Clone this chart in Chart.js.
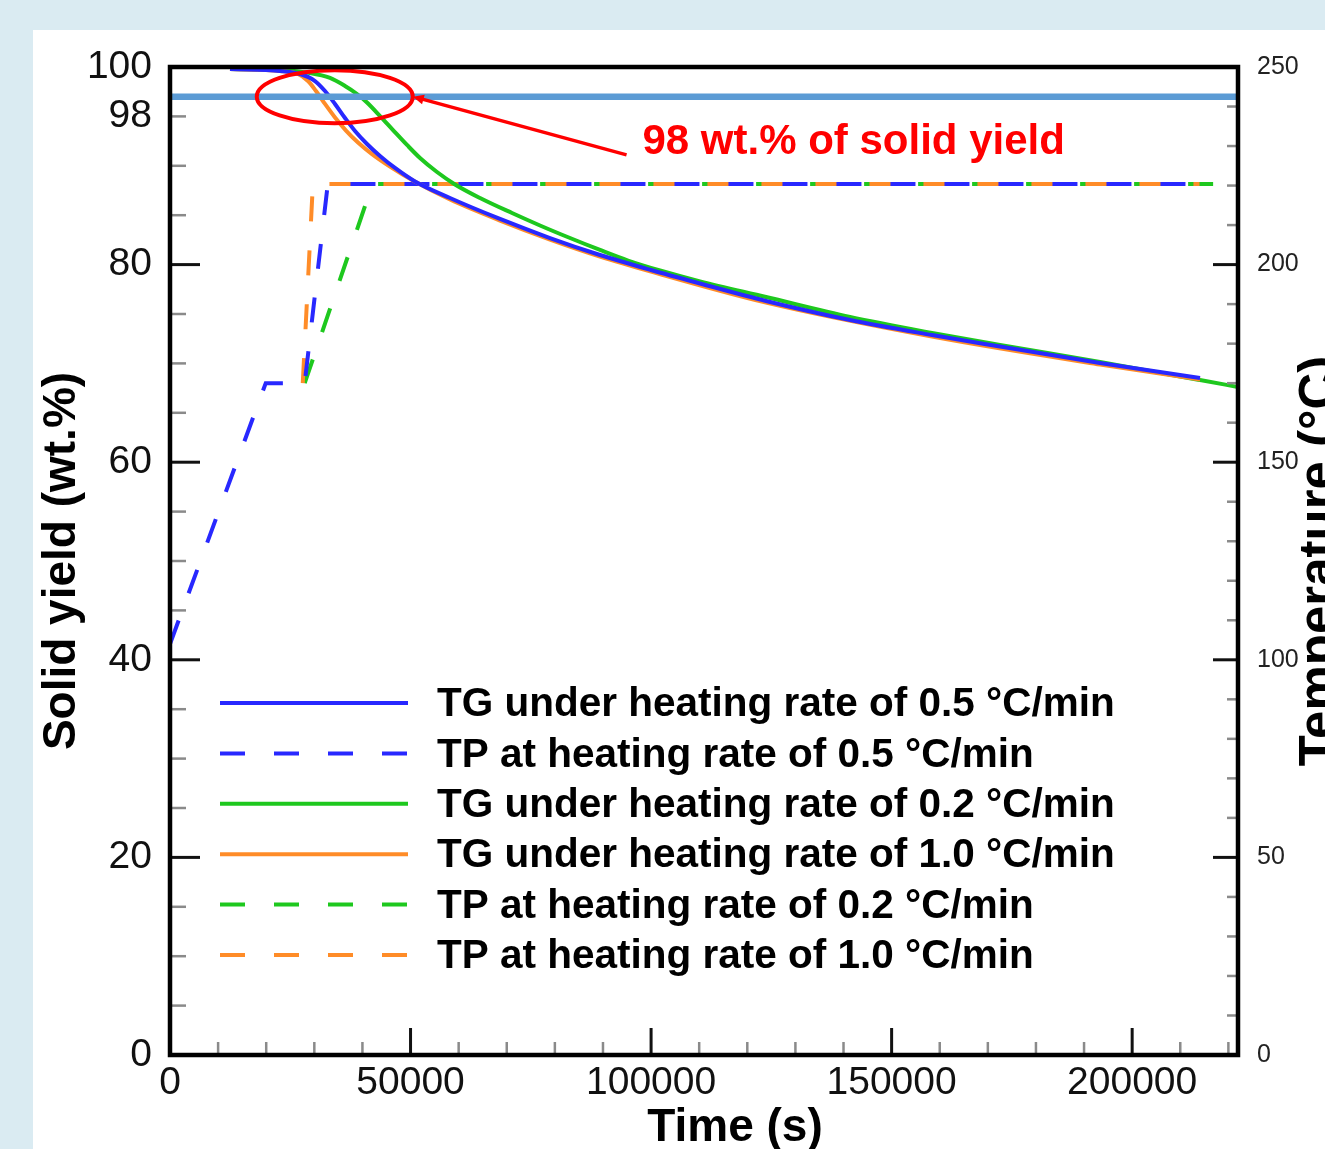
<!DOCTYPE html>
<html>
<head>
<meta charset="utf-8">
<title>Solid yield and temperature vs. time</title>
<script src="https://cdn.jsdelivr.net/npm/chart.js@4.4.1/dist/chart.umd.min.js"></script>
<style>
    html, body { margin: 0; padding: 0; overflow: hidden; background: #daebf2; }
    #panel { position: absolute; left: 33px; top: 30px; width: 1292px; height: 1119px; background: #fff; }
    canvas { display: block; }
</style>
</head>
<body>
<div id="panel"><canvas id="yieldChart" width="1292" height="1119"></canvas></div>
<script>
// -----------------------------------------
// Daten
// -----------------------------------------

// TG-Kurven: Zeit (s) / Feststoffausbeute (wt.%)
const tgTime05  = [12472, 22866, 27023, 30141, 32220, 34299, 36377, 38456, 40950, 43653, 46771, 50928, 58204, 68597, 78991, 89384, 99985, 110171, 123891, 141352, 158397, 172532, 193319, 214106];
const tgYield05 = [99.80, 99.60, 99.29, 98.58, 97.57, 96.26, 94.84, 93.52, 92.21, 90.99, 89.78, 88.41, 86.74, 84.62, 82.69, 80.97, 79.45, 78.09, 76.32, 74.39, 72.87, 71.71, 70.04, 68.52];

const tgTime02  = [12472, 22866, 29102, 33259, 36377, 38872, 40950, 43653, 46355, 49265, 51968, 55501, 59243, 64440, 71092, 76912, 83148, 89384, 95204, 101856, 110171, 123891, 141352, 158397, 172532, 193319, 214106, 222000];
const tgYield02 = [99.80, 99.70, 99.39, 98.89, 98.08, 97.27, 96.41, 95.04, 93.62, 92.11, 90.79, 89.37, 88.11, 86.74, 85.22, 83.96, 82.69, 81.48, 80.41, 79.40, 78.30, 76.72, 74.70, 73.08, 71.86, 70.14, 68.32, 67.61];

const tgTime10  = [12472, 22866, 26607, 28686, 30349, 32220, 34299, 36585, 39080, 41990, 45731, 50512, 58204, 68597, 78991, 89384, 99985, 123891, 158397, 193319, 214106];
const tgYield10 = [99.80, 99.60, 99.29, 98.58, 97.57, 96.26, 94.89, 93.57, 92.36, 91.19, 89.93, 88.51, 86.59, 84.46, 82.54, 80.82, 79.30, 76.16, 72.72, 69.89, 68.37];

// TP-Kurven: Zeit (s) / Temperatur (°C)
const tpTime05 = [0, 19900, 28000, 32800, 214000];
const tpTemp05 = [104, 170, 170, 220.4, 220.4];

const tpTime02 = [28000, 42100, 222000];
const tpTemp02 = [170, 220.4, 220.4];

const tpTime10 = [27600, 29700, 214000];
const tpTemp10 = [170, 220.4, 220.4];

// Referenzlinie "98 wt.%" (so wie sie in der Abbildung liegt)
const refTime  = [0, 222000];
const refYield = [97, 97];

// Achsen und Tick-Beschriftungen
const timeMax = 222000;
const yieldMax = 100;
const tempMax = 250;
const timeLabels  = [0, 50000, 100000, 150000, 200000];
const yieldLabels = [0, 20, 40, 60, 80, 100];
const tempLabels  = [0, 50, 100, 150, 200, 250];
const timeMinorStep = 10000;
const yieldMinorStep = 5;
const tempMinorStep = 10;

// Beschriftungen
const labels = {
    tg05: "TG under heating rate of 0.5 \u00B0C/min",
    tp05: "TP at heating rate of 0.5 \u00B0C/min",
    tg02: "TG under heating rate of 0.2 \u00B0C/min",
    tg10: "TG under heating rate of 1.0 \u00B0C/min",
    tp02: "TP at heating rate of 0.2 \u00B0C/min",
    tp10: "TP at heating rate of 1.0 \u00B0C/min"
};
const legendOrder = ["tg05", "tp05", "tg02", "tg10", "tp02", "tp10"];
const annotationText = "98 wt.% of solid yield";


// -----------------------------------------
// Farben / Schrift
// -----------------------------------------
const BLUE = "#2828ff";
const GREEN = "#1ec81e";
const ORANGE = "#ff8c28";
const RED = "#ff0000";
const FONT = "'Liberation Sans', Arial, sans-serif";
const DASH = [25, 29];

const pts = (xs, ys) => xs.map((x, i) => ({ x: x, y: ys[i] }));

function tickList(max, step) {
    const list = [];
    for (let v = 0; v <= max + 1e-9; v += step) list.push({ value: v });
    return list;
}

// feste Achsenbreiten, ohne Zusatzabstand fuer ueberstehende Labels
function fixSize(prop, size) {
    return s => {
        s[prop] = size;
        s.paddingTop = 0;
        s.paddingBottom = 0;
        s.paddingLeft = 0;
        s.paddingRight = 0;
    };
}


// -----------------------------------------
// Plugin: Rahmen, Ticks nach innen, Achsentitel
// -----------------------------------------
const frameTicks = {
    id: "frameTicks",
    afterDraw(chart) {
        const { ctx, chartArea: a, scales } = chart;
        ctx.save();

        const line = (x1, y1, x2, y2, color, w) => {
            ctx.strokeStyle = color;
            ctx.lineWidth = w;
            ctx.beginPath();
            ctx.moveTo(x1, y1);
            ctx.lineTo(x2, y2);
            ctx.stroke();
        };

        // linke Achse
        scales.y.ticks.forEach(t => {
            const py = scales.y.getPixelForValue(t.value);
            if (yieldLabels.includes(t.value)) line(a.left, py, a.left + 30, py, "#111", 3);
            else line(a.left, py, a.left + 16, py, "#8a8a8a", 2.5);
        });

        // rechte Achse
        scales.y1.ticks.forEach(t => {
            const py = scales.y1.getPixelForValue(t.value);
            if (tempLabels.includes(t.value)) line(a.right, py, a.right - 25, py, "#111", 3);
            else line(a.right, py, a.right - 11, py, "#8a8a8a", 2.5);
        });

        // x-Achse
        scales.x.ticks.forEach(t => {
            const px = scales.x.getPixelForValue(t.value);
            if (timeLabels.includes(t.value)) line(px, a.bottom, px, a.bottom - 27, "#111", 3);
            else line(px, a.bottom, px, a.bottom - 13, "#8a8a8a", 2.5);
        });

        // Rahmen
        ctx.strokeStyle = "#000";
        ctx.lineWidth = 4.5;
        ctx.strokeRect(a.left, a.top, a.right - a.left, a.bottom - a.top);

        // Achsentitel
        const midY = (a.top + a.bottom) / 2;
        ctx.fillStyle = "#000";
        ctx.textAlign = "center";
        ctx.textBaseline = "alphabetic";

        ctx.font = "bold 46px " + FONT;
        ctx.save();
        ctx.translate(42, midY);
        ctx.rotate(-Math.PI / 2);
        ctx.fillText("Solid yield (wt.%)", 0, 0);
        ctx.restore();

        ctx.fillText("Time (s)", a.left + 565, a.bottom + 86);

        ctx.font = "bold 51px " + FONT;
        ctx.save();
        ctx.translate(a.right + 97, midY);
        ctx.rotate(-Math.PI / 2);
        ctx.fillText("Temperature (\u00B0C)", 0, 0);
        ctx.restore();

        ctx.restore();
    }
};


// -----------------------------------------
// Plugin: Markierung (Ellipse, Pfeil, roter Text)
// -----------------------------------------
const annotation = {
    id: "annotation",
    afterDatasetsDraw(chart) {
        const { ctx, scales } = chart;
        const cx = scales.x.getPixelForValue(34250);
        const cy = scales.y.getPixelForValue(refYield[0]);
        const rx = 78, ry = 26.5;

        ctx.save();
        ctx.strokeStyle = RED;
        ctx.fillStyle = RED;
        ctx.lineWidth = 4;

        ctx.beginPath();
        ctx.ellipse(cx, cy, rx, ry, 0, 0, Math.PI * 2);
        ctx.stroke();

        // Pfeil zur Ellipse
        const ex = cx + rx, ey = cy;
        const lx = scales.x.getPixelForValue(94900);
        const ly = scales.y.getPixelForValue(91.1);
        ctx.lineWidth = 3.5;
        ctx.beginPath();
        ctx.moveTo(lx, ly);
        ctx.lineTo(ex + 4, ey + 1);
        ctx.stroke();

        const ang = Math.atan2(ey - ly, ex - lx);
        ctx.beginPath();
        ctx.moveTo(ex, ey);
        ctx.lineTo(ex - 11 * Math.cos(ang) + 5 * Math.sin(ang), ey - 11 * Math.sin(ang) - 5 * Math.cos(ang));
        ctx.lineTo(ex - 11 * Math.cos(ang) - 5 * Math.sin(ang), ey - 11 * Math.sin(ang) + 5 * Math.cos(ang));
        ctx.closePath();
        ctx.fill();

        // Text
        ctx.font = "bold 42px " + FONT;
        ctx.textAlign = "left";
        ctx.textBaseline = "middle";
        ctx.fillText(annotationText, scales.x.getPixelForValue(98200), scales.y.getPixelForValue(92.4));

        ctx.restore();
    }
};


// -----------------------------------------
// Plugin: Legende im Diagramm
// -----------------------------------------
const inLegend = {
    id: "inLegend",
    afterDraw(chart) {
        const { ctx, chartArea: a } = chart;
        ctx.save();
        ctx.font = "bold 40.5px " + FONT;
        ctx.textAlign = "left";
        ctx.textBaseline = "middle";

        legendOrder.forEach((key, i) => {
            const ds = chart.data.datasets.find(d => d.key === key);
            const y = a.top + 636 + i * 50.4;
            ctx.strokeStyle = ds.borderColor;
            ctx.lineWidth = 4;
            ctx.setLineDash(ds.borderDash || []);
            ctx.beginPath();
            ctx.moveTo(a.left + 50, y);
            ctx.lineTo(a.left + 238, y);
            ctx.stroke();
            ctx.setLineDash([]);
            ctx.fillStyle = "#000";
            ctx.fillText(ds.label, a.left + 267, y + 2);
        });
        ctx.restore();
    }
};


// -----------------------------------------
// Diagramm
// -----------------------------------------
const canvas = document.getElementById("yieldChart");

new Chart(canvas.getContext("2d"), {
    type: "line",
    data: {
        datasets: [
            { key: "ref", label: "98 wt.%", data: pts(refTime, refYield), borderColor: "#5b9bd5", borderWidth: 6.5, yAxisID: "y", order: -1 },
            { key: "tg05", label: labels.tg05, data: pts(tgTime05, tgYield05), borderColor: BLUE, borderWidth: 4, yAxisID: "y", order: 0, cubicInterpolationMode: "monotone" },
            { key: "tg10", label: labels.tg10, data: pts(tgTime10, tgYield10), borderColor: ORANGE, borderWidth: 4, yAxisID: "y", order: 1, cubicInterpolationMode: "monotone" },
            { key: "tg02", label: labels.tg02, data: pts(tgTime02, tgYield02), borderColor: GREEN, borderWidth: 4, yAxisID: "y", order: 2, cubicInterpolationMode: "monotone" },
            { key: "tp05", label: labels.tp05, data: pts(tpTime05, tpTemp05), borderColor: BLUE, borderWidth: 4, borderDash: DASH, yAxisID: "y1", order: 3 },
            { key: "tp10", label: labels.tp10, data: pts(tpTime10, tpTemp10), borderColor: ORANGE, borderWidth: 4, borderDash: DASH, yAxisID: "y1", order: 4 },
            { key: "tp02", label: labels.tp02, data: pts(tpTime02, tpTemp02), borderColor: GREEN, borderWidth: 4, borderDash: DASH, yAxisID: "y1", order: 5 }
        ]
    },
    options: {
        responsive: false,
        animation: false,
        devicePixelRatio: 1,
        layout: { padding: { top: 37, left: 0, right: 0, bottom: 0 } },
        elements: { point: { radius: 0 }, line: { tension: 0 } },
        plugins: { legend: { display: false }, tooltip: { enabled: false } },
        scales: {
            x: {
                type: "linear",
                min: 0,
                max: timeMax,
                grid: { display: false, drawTicks: false },
                border: { display: false },
                afterFit: fixSize("height", 94),
                afterBuildTicks: s => { s.ticks = tickList(timeMax, timeMinorStep); },
                ticks: {
                    autoSkip: false,
                    maxRotation: 0,
                    padding: 5,
                    color: "#111",
                    font: { family: FONT, size: 39 },
                    callback: v => (timeLabels.includes(v) ? String(v) : "")
                }
            },
            y: {
                position: "left",
                min: 0,
                max: yieldMax,
                grid: { display: false, drawTicks: false },
                border: { display: false },
                afterFit: fixSize("width", 137),
                afterBuildTicks: s => { s.ticks = tickList(yieldMax, yieldMinorStep); },
                ticks: {
                    autoSkip: false,
                    padding: 18,
                    color: "#111",
                    font: { family: FONT, size: 39 },
                    // in der Vorlage steht "98" neben dem Tick bei 95
                    callback: v => (yieldLabels.includes(v) ? String(v) : (v === 95 ? "98" : ""))
                }
            },
            y1: {
                position: "right",
                min: 0,
                max: tempMax,
                grid: { display: false, drawTicks: false },
                border: { display: false },
                afterFit: fixSize("width", 87),
                afterBuildTicks: s => { s.ticks = tickList(tempMax, tempMinorStep); },
                ticks: {
                    autoSkip: false,
                    padding: 19,
                    color: "#222",
                    font: { family: FONT, size: 25 },
                    callback: v => (tempLabels.includes(v) ? String(v) : "")
                }
            }
        }
    },
    plugins: [annotation, frameTicks, inLegend]
});
</script>
</body>
</html>
